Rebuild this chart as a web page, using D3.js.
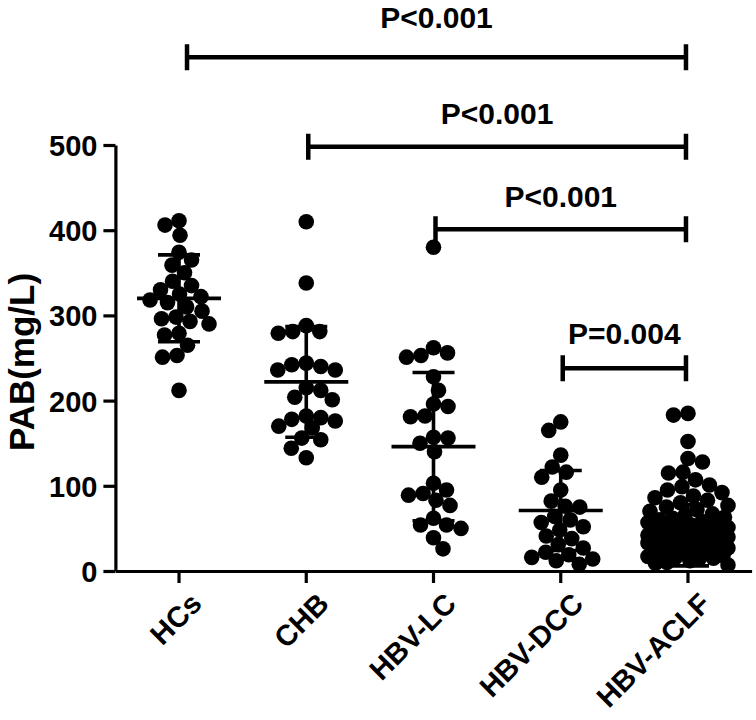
<!DOCTYPE html>
<html>
<head>
<meta charset="utf-8">
<script src="https://cdn.jsdelivr.net/npm/d3@7/dist/d3.min.js"></script>
<style>
  html, body { margin: 0; padding: 0; background: #fff; }
  svg { display: block; }
  text { font-family: "Liberation Sans", Arial, Helvetica, sans-serif; font-weight: bold; fill: #000; }
</style>
</head>
<body>
<svg id="chart" width="756" height="720"></svg>
<script>
// ---------------- data ----------------
const categories = ["HCs", "CHB", "HBV-LC", "HBV-DCC", "HBV-ACLF"];

const hcsValues  = [411, 406, 394, 374, 365, 359, 350, 340, 335, 330, 325, 322, 318, 315,
                    310, 305, 298, 296, 293, 290, 279, 277, 265, 253, 251, 212];
const chbValues  = [410, 338, 288, 281, 281, 279, 244, 242, 240, 236, 236, 215, 212, 204,
                    201, 182, 180, 178, 176, 170, 168, 156, 154, 144, 133];
const lcValues   = [380, 262, 256, 253, 251, 228, 212, 196, 193, 182, 181, 157, 156, 150,
                    140, 103, 95, 91, 89, 83, 77, 62, 54, 54, 50, 39, 26];
const dccValues  = [175, 165, 136, 122, 116, 110, 95, 82, 76, 75, 64, 60, 57, 52, 48,
                    41, 38, 31, 27, 22, 19, 16, 14, 12, 8];
const aclfValues = [185, 183, 152, 132, 128, 116, 115, 107, 101, 99, 95, 92, 88, 86, 83,
                    80, 77, 75, 72, 70, 67, 65, 63, 62, 60, 58, 57, 55, 54, 52, 51, 50,
                    48, 48, 47, 45, 44, 43, 42, 41, 40, 39, 38, 37, 36, 35, 34, 33, 33,
                    31, 30, 29, 28, 27, 26, 25, 24, 23, 22, 21, 20, 19, 18, 17, 16, 15,
                    14, 12, 10, 9, 7];

const groupValues = [hcsValues, chbValues, lcValues, dccValues, aclfValues];
const groupMeans  = [320, 222, 146, 71, 42];
const groupSDs    = [51, 65, 87, 47, 36];

const yTickValues = [0, 100, 200, 300, 400, 500];
const yTitle = "PAB(mg/L)";

const comparisonFrom   = ["HCs", "CHB", "HBV-LC", "HBV-DCC"];
const comparisonTo     = ["HBV-ACLF", "HBV-ACLF", "HBV-ACLF", "HBV-ACLF"];
const comparisonLabels = ["P<0.001", "P<0.001", "P<0.001", "P=0.004"];

// ---------------- layout ----------------
const svg = d3.select("#chart");
const axisX0 = 115.4, axisX1 = 751.6;
const axisY0 = 571, axisYTop = 145;

const x = d3.scaleBand().domain(categories).range([axisX0, axisX1]).padding(0);
const cx = c => x(c) + x.bandwidth() / 2;
const y = d3.scaleLinear().domain([0, 500]).range([axisY0, axisYTop]);

// bracket heights (in data units) and label gaps (px)
const bracketLevels = [603, 498, 401, 238];
const labelGaps = [29, 23, 22, 24];

const dotR = 7.8;
const minDist = 14.5;
const maxSpread = 40;

// deterministic beeswarm (Prism-like scatter)
function swarm(values) {
  const sorted = values.slice().sort((a, b) => b - a);
  const placed = [];
  sorted.forEach((v, idx) => {
    const cy = y(v);
    const pref = idx % 2 === 0 ? 1 : -1;
    let chosen = null, bestScore = -Infinity, bestPos = 0;
    outer:
    for (let k = 0; k <= maxSpread; k += 0.5) {
      const cands = k === 0 ? [0] : [pref * k, -pref * k];
      for (const s of cands) {
        let m = Infinity;
        for (const q of placed) {
          const dd = Math.hypot(q.dx - s, q.cy - cy);
          if (dd < m) m = dd;
        }
        if (m >= minDist) { chosen = s; break outer; }
        if (m > bestScore + 0.01) { bestScore = m; bestPos = s; }
      }
    }
    if (chosen === null) chosen = bestPos;
    placed.push({ v, dx: chosen, cy });
  });
  return placed;
}

// ---------------- axes ----------------
const yAxis = svg.append("g")
  .attr("transform", `translate(${axisX0},0)`)
  .call(d3.axisLeft(y).tickValues(yTickValues).tickSize(12).tickSizeOuter(0).tickPadding(6));
yAxis.select(".domain").attr("stroke", "#000").attr("stroke-width", 3.2);
yAxis.selectAll(".tick line").attr("stroke", "#000").attr("stroke-width", 3.2);
yAxis.selectAll(".tick text")
  .attr("font-size", 29).attr("font-weight", "bold")
  .attr("font-family", "'Liberation Sans', Arial, sans-serif").attr("fill", "#000")
  .attr("dy", "0.36em");

const xAxis = svg.append("g")
  .attr("transform", `translate(0,${axisY0})`)
  .call(d3.axisBottom(x).tickSize(12).tickSizeOuter(0).tickFormat(""));
xAxis.select(".domain").attr("stroke", "#000").attr("stroke-width", 3.2);
xAxis.selectAll(".tick line").attr("stroke", "#000").attr("stroke-width", 3.2);

// category labels rotated -45
svg.append("g").selectAll("text")
  .data(categories)
  .join("text")
  .attr("transform", d => `translate(${cx(d) + 10},${axisY0 + 20}) rotate(-45)`)
  .attr("text-anchor", "end")
  .attr("dy", "0.7em")
  .attr("font-size", 29)
  .text(d => d);

// y title
svg.append("text")
  .attr("transform", `translate(34,362) rotate(-90)`)
  .attr("text-anchor", "middle")
  .attr("font-size", 35)
  .text(yTitle);

// ---------------- points ----------------
const gPts = svg.append("g");
categories.forEach((c, i) => {
  const pts = swarm(groupValues[i]);
  gPts.append("g").selectAll("circle")
    .data(pts)
    .join("circle")
    .attr("cx", d => cx(c) + d.dx)
    .attr("cy", d => d.cy)
    .attr("r", dotR)
    .attr("fill", "#000");
});

// ---------------- mean ± SD ----------------
const gStats = svg.append("g").attr("stroke", "#000").attr("stroke-width", 3.6);
categories.forEach((c, i) => {
  const m = groupMeans[i], s = groupSDs[i], xc = cx(c);
  gStats.append("line").attr("x1", xc - 42).attr("x2", xc + 42).attr("y1", y(m)).attr("y2", y(m));
  gStats.append("line").attr("x1", xc).attr("x2", xc).attr("y1", y(m + s)).attr("y2", y(Math.max(0, m - s)));
  gStats.append("line").attr("x1", xc - 21).attr("x2", xc + 21).attr("y1", y(m + s)).attr("y2", y(m + s));
  if (m - s > 0)
    gStats.append("line").attr("x1", xc - 21).attr("x2", xc + 21).attr("y1", y(m - s)).attr("y2", y(m - s));
});

// ---------------- significance brackets ----------------
const gBr = svg.append("g");
comparisonLabels.forEach((lab, i) => {
  const x1 = cx(comparisonFrom[i]) + (i === 0 ? 8 : 2), x2 = cx(comparisonTo[i]) - 2;
  const yy = y(bracketLevels[i]);
  gBr.append("path")
    .attr("d", `M${x1},${yy - 13}V${yy + 13}M${x1},${yy}H${x2}M${x2},${yy - 13}V${yy + 13}`)
    .attr("fill", "none").attr("stroke", "#000").attr("stroke-width", 4.5);
  gBr.append("text")
    .attr("x", (x1 + x2) / 2)
    .attr("y", yy - labelGaps[i])
    .attr("text-anchor", "middle")
    .attr("font-size", 30)
    .text(lab);
});
</script>
</body>
</html>
